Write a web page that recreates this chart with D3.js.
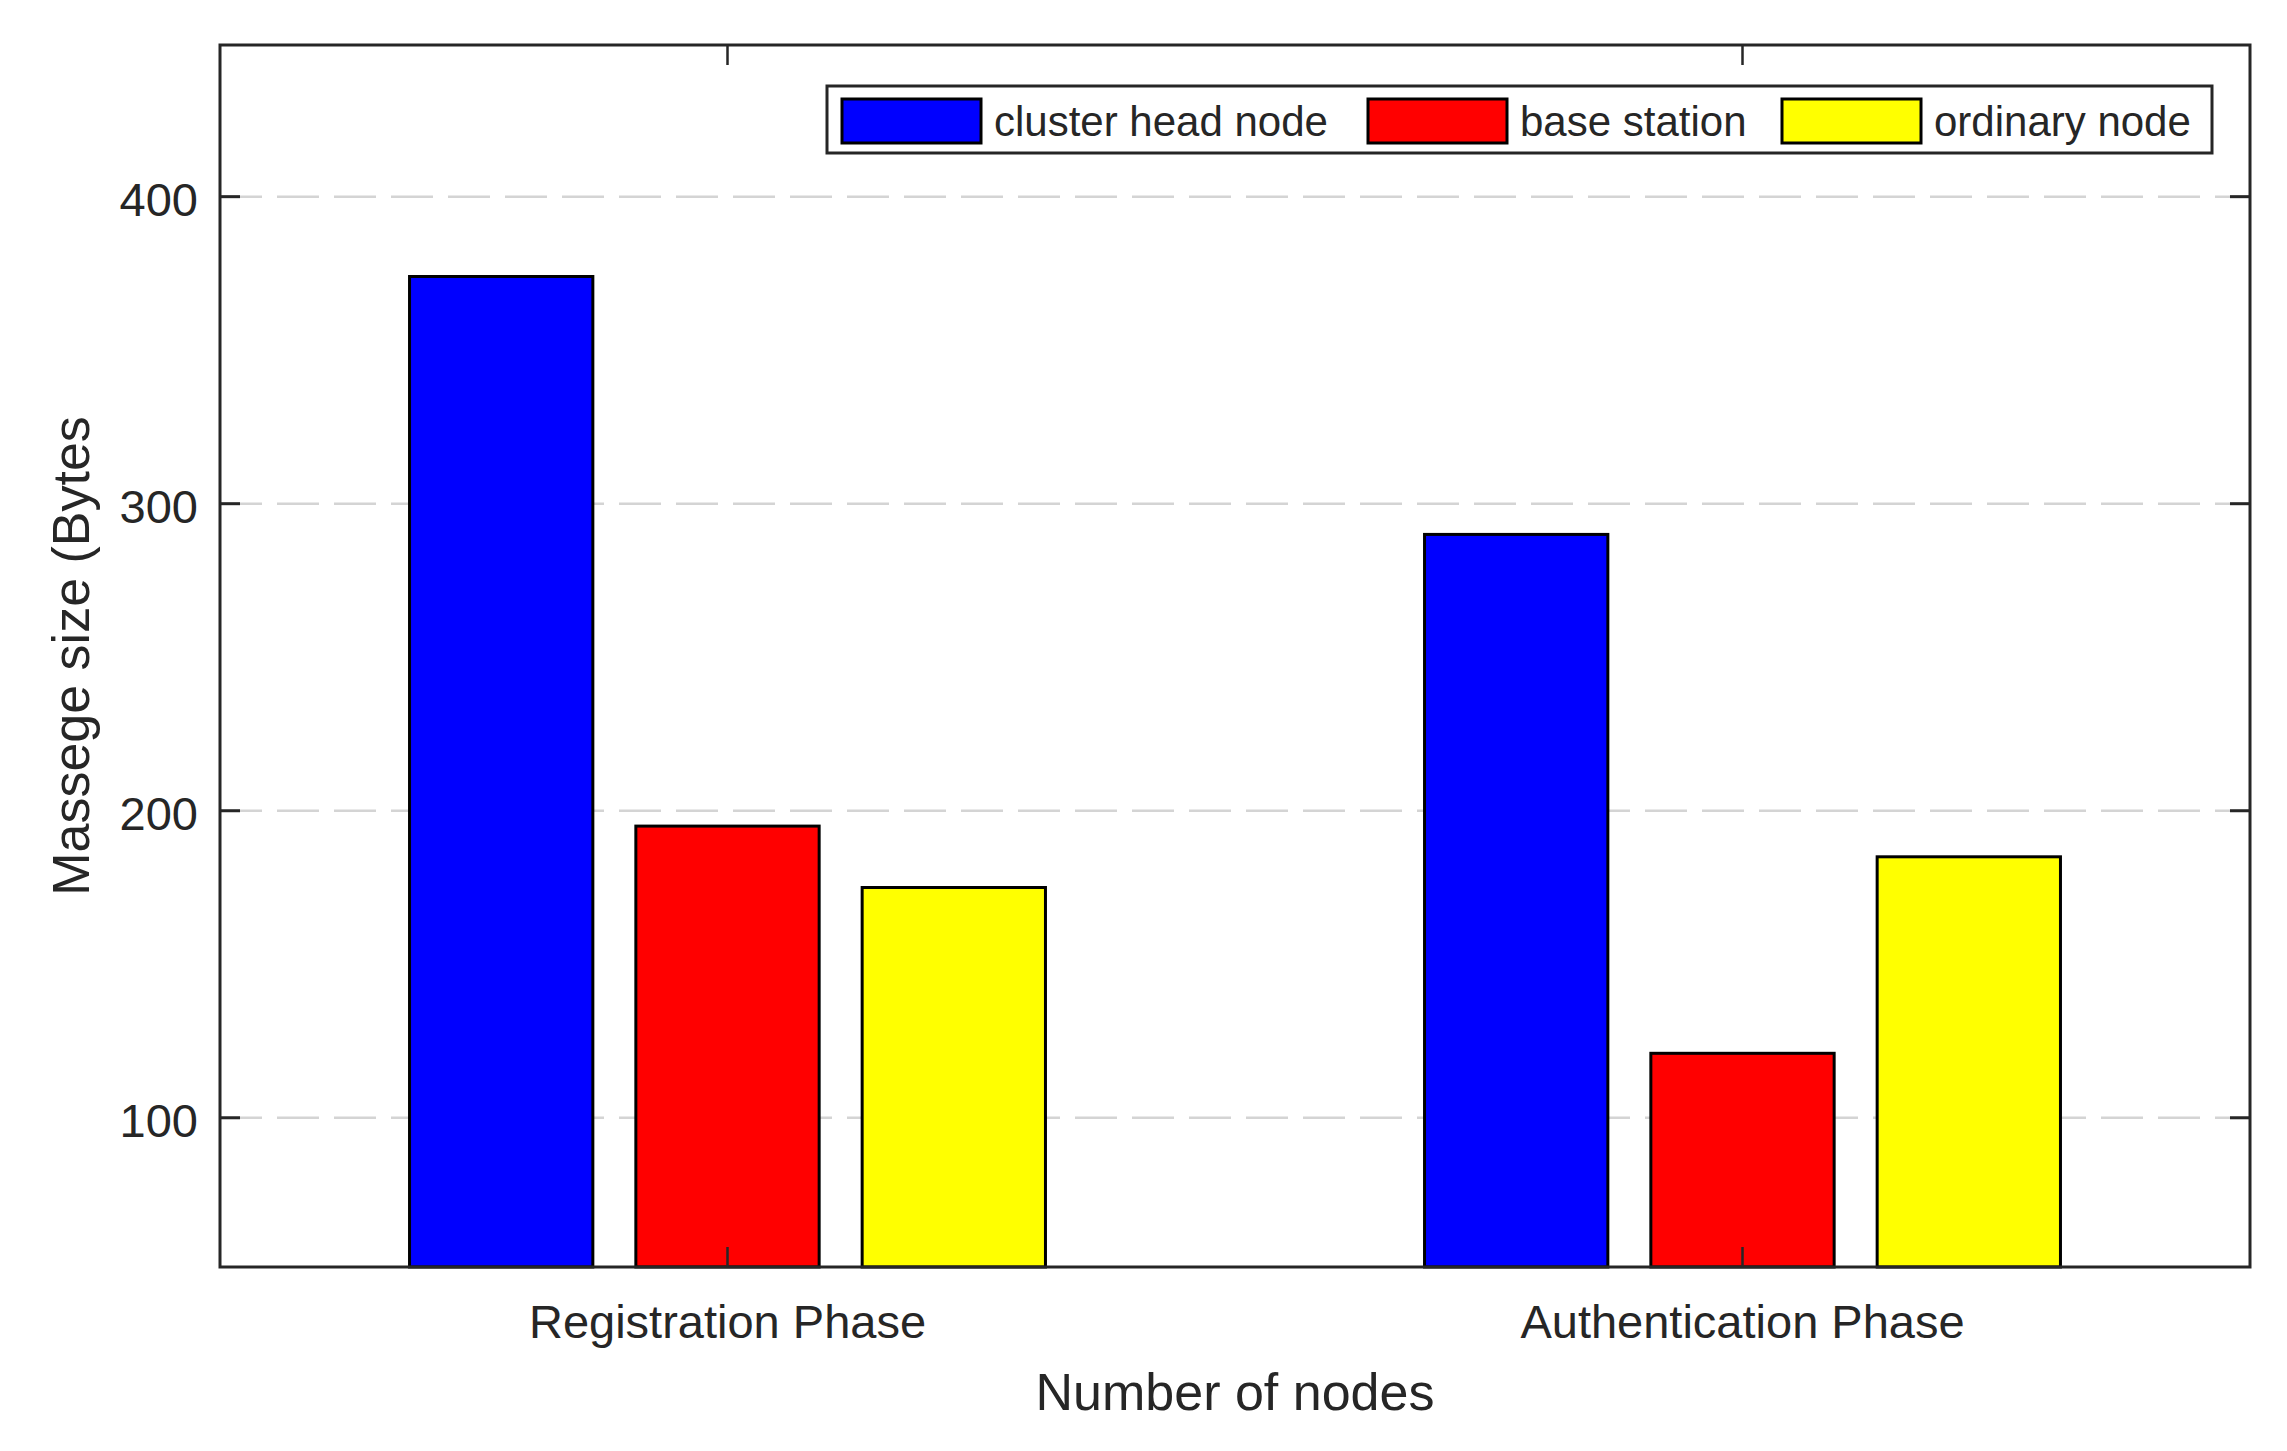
<!DOCTYPE html>
<html>
<head>
<meta charset="utf-8">
<script src="https://cdn.jsdelivr.net/npm/d3@7"></script>
<style>
  html, body { margin: 0; padding: 0; background: #fff; }
  text { font-family: "Liberation Sans", Arial, Helvetica, sans-serif; fill: #262626; }
</style>
</head>
<body>
<svg id="chart" width="2287" height="1451"></svg>
<script>
const categories = ["Registration Phase", "Authentication Phase"];
const seriesNames = ["cluster head node", "base station", "ordinary node"];
const seriesColors = ["#0000ff", "#ff0000", "#ffff00"];
const clusterHead = [374, 290];
const baseStation = [195, 121];
const ordinaryNode = [175, 185];
const yTicks = [100, 200, 300, 400];
const yLabel = "Massege size (Bytes";
const xLabel = "Number of nodes";

const seriesValues = [clusterHead, baseStation, ordinaryNode];

const W = 2287, H = 1451;
const m = { left: 220, right: 2250, top: 45, bottom: 1267 };
const svg = d3.select("#chart");

const x0 = d3.scaleBand().domain(categories).range([m.left, m.right])
  .paddingInner(1/3).paddingOuter(1/6);
const x1 = d3.scaleBand().domain(seriesNames).range([0, x0.bandwidth()])
  .paddingInner(0.19).paddingOuter(0.09);
const y = d3.scaleLinear().domain([51.4, 449.4]).range([m.bottom, m.top]);

// grid
svg.append("g").selectAll("line").data(yTicks).join("line")
  .attr("x1", m.left).attr("x2", m.right)
  .attr("y1", d => y(d)).attr("y2", d => y(d))
  .attr("stroke", "#d4d4d4").attr("stroke-width", 2.5)
  .attr("stroke-dasharray", "42,15");

// bars
const rows = [];
categories.forEach((c, i) => seriesNames.forEach((s, j) => rows.push({ c, s, j, v: seriesValues[j][i] })));
svg.append("g").selectAll("rect").data(rows).join("rect")
  .attr("x", d => x0(d.c) + x1(d.s))
  .attr("width", x1.bandwidth())
  .attr("y", d => y(d.v))
  .attr("height", d => y.range()[0] - y(d.v))
  .attr("fill", d => seriesColors[d.j])
  .attr("stroke", "#000").attr("stroke-width", 3);

// axes box
const ink = "#262626";
svg.append("rect").attr("x", m.left).attr("y", m.top)
  .attr("width", m.right - m.left).attr("height", m.bottom - m.top)
  .attr("fill", "none").attr("stroke", ink).attr("stroke-width", 3);

// y ticks (left & right, inward)
const tl = 20;
const yt = svg.append("g");
yTicks.forEach(t => {
  yt.append("line").attr("x1", m.left).attr("x2", m.left + tl).attr("y1", y(t)).attr("y2", y(t))
    .attr("stroke", ink).attr("stroke-width", 3);
  yt.append("line").attr("x1", m.right).attr("x2", m.right - tl).attr("y1", y(t)).attr("y2", y(t))
    .attr("stroke", ink).attr("stroke-width", 3);
  yt.append("text").attr("x", m.left - 22).attr("y", y(t) + 19)
    .attr("text-anchor", "end").attr("font-size", 47).text(t);
});

// x ticks (bottom & top, inward)
const xt = svg.append("g");
categories.forEach(c => {
  const cx = x0(c) + x0.bandwidth() / 2;
  xt.append("line").attr("x1", cx).attr("x2", cx).attr("y1", m.bottom).attr("y2", m.bottom - tl)
    .attr("stroke", ink).attr("stroke-width", 2.5);
  xt.append("line").attr("x1", cx).attr("x2", cx).attr("y1", m.top).attr("y2", m.top + tl)
    .attr("stroke", ink).attr("stroke-width", 2.5);
  xt.append("text").attr("x", cx).attr("y", 1338)
    .attr("text-anchor", "middle").attr("font-size", 47).text(c);
});

// axis labels
svg.append("text").attr("x", (m.left + m.right) / 2).attr("y", 1410)
  .attr("text-anchor", "middle").attr("font-size", 52).text(xLabel);
svg.append("text").attr("transform", `translate(89,${(m.top + m.bottom) / 2}) rotate(-90)`)
  .attr("text-anchor", "middle").attr("font-size", 52).text(yLabel);

// legend
const lg = svg.append("g");
lg.append("rect").attr("x", 827).attr("y", 86).attr("width", 2212 - 827).attr("height", 67)
  .attr("fill", "#fff").attr("stroke", ink).attr("stroke-width", 3);
const legX = [842, 1368, 1782];
seriesNames.forEach((s, j) => {
  lg.append("rect").attr("x", legX[j]).attr("y", 99).attr("width", 139).attr("height", 44)
    .attr("fill", seriesColors[j]).attr("stroke", "#000").attr("stroke-width", 3);
  lg.append("text").attr("x", legX[j] + 152).attr("y", 136)
    .attr("font-size", 42).text(s);
});
</script>
</body>
</html>
